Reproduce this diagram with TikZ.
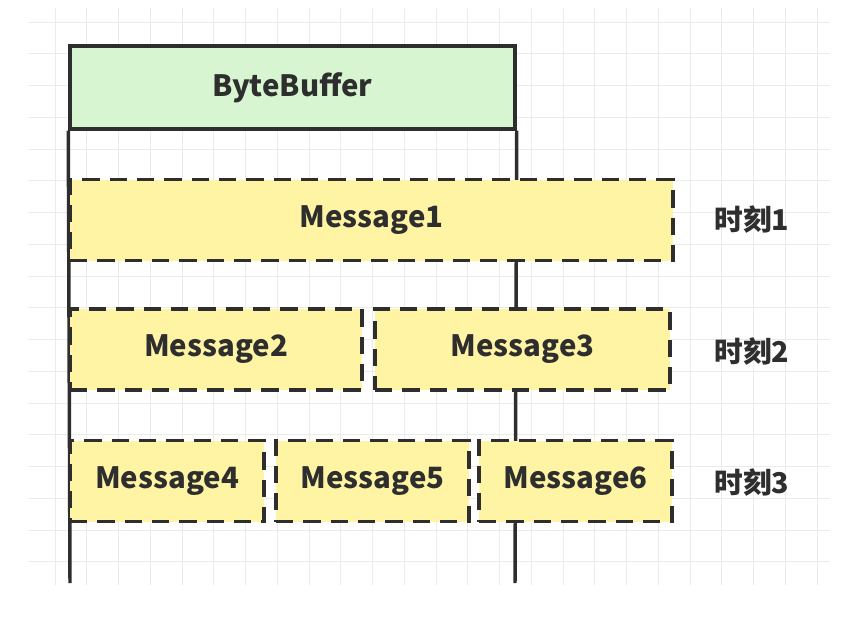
\documentclass[tikz,border=0pt]{standalone}
\usepackage{fontspec}
\newfontfamily\cjk{Noto Sans CJK SC}
\usetikzlibrary{positioning}
\definecolor{gridgray}{HTML}{EBEBEB}
\definecolor{linegray}{HTML}{2E2E2E}
\definecolor{headgreen}{HTML}{D8F5D2}
\definecolor{msgyellow}{HTML}{FFF4A4}

\begin{document}
\begin{tikzpicture}[
    x=0.75pt, y=-0.75pt,
    every node/.style={font=\cjk\bfseries\fontsize{22}{26}\selectfont, text=linegray},
    gridline/.style={gridgray, line width=0.75pt},
    wall/.style={draw=linegray, line width=2.6pt},
    buffer/.style={rectangle, wall, fill=headgreen, inner sep=0pt, minimum width=333.75pt, minimum height=62.25pt},
    msg/.style={rectangle, wall, dash pattern=on 13pt off 7.5pt, fill=msgyellow, inner sep=0pt, minimum height=60.75pt},
    moment/.style={inner sep=0pt, font=\cjk\bfseries\fontsize{21.5}{26}\selectfont}
]
\useasboundingbox[fill=white] (0,0) rectangle (852,618);

% Background grid
\foreach \gx in {0,...,24}
    \draw[gridline] ({55+31.75*\gx},8) -- ({55+31.75*\gx},585);
\foreach \gy in {0,...,17}
    \draw[gridline] (28,{22+31.75*\gy}) -- (830,{22+31.75*\gy});

% Buffer
\node[buffer] (bb) at (292.5,87.5) {ByteBuffer};
\coordinate (wallL) at (70,583);
\coordinate (wallR) at (515,583);
\draw[wall] (bb.south west) -- (wallL);
\draw[wall] (bb.south east) -- (wallR);

% Messages
\node[msg, minimum width=452.25pt] (m1) at (371.5,220) {Message1};
\node[msg, minimum width=219pt] (m2) at (216,349.5) {Message2};
\node[msg, minimum width=221.25pt] (m3) at (522.5,349.5) {Message3};
\node[msg, minimum width=145.5pt] (m4) at (167,481) {Message4};
\node[msg, minimum width=144.75pt] (m5) at (372.5,481) {Message5};
\node[msg, minimum width=144.75pt] (m6) at (575.5,481) {Message6};

% Moments
\node[moment] (t1) at (752,220) {时刻1};
\node[moment] (t2) at (752,352) {时刻2};
\node[moment] (t3) at (752,483) {时刻3};

\end{tikzpicture}
\end{document}
